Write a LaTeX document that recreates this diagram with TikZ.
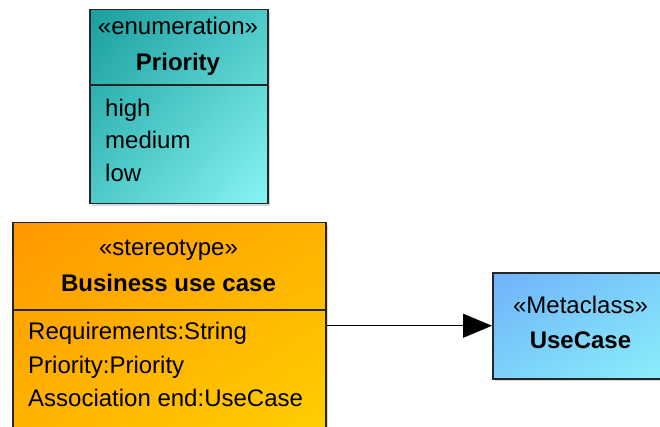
\documentclass[tikz,border=0pt]{standalone}
\usepackage{fontspec}
\setmainfont{Liberation Sans}
\usetikzlibrary{shadows,shadings,arrows.meta}
\definecolor{tealdark}{HTML}{1A9E9E}
\definecolor{teallight}{HTML}{88F4F4}
\definecolor{tealmid}{HTML}{4FC9C9}
\definecolor{orgdark}{HTML}{FF9800}
\definecolor{orglight}{HTML}{FFCE00}
\definecolor{orgmid}{HTML}{FFB300}
\definecolor{bluedark}{HTML}{6FB2FA}
\definecolor{bluelight}{HTML}{8CF0FA}
\definecolor{bluemid}{HTML}{7DD1FA}
\begin{document}
\begin{tikzpicture}[x=1pt,y=-1pt,
  box/.style={draw=black!85, line width=1.5pt, rectangle, inner sep=0pt, anchor=north west,
    drop shadow={shadow xshift=2.5pt,shadow yshift=-2.5pt,opacity=0.3,fill=gray}},
  txt/.style={inner sep=0pt, font=\fontsize{24}{28}\selectfont},
  hdr/.style={inner sep=0pt, font=\fontsize{24}{28}\selectfont\bfseries},
  divider/.style={draw=black!85, line width=1.5pt}]
\useasboundingbox (0,0) rectangle (660,427);
\clip (0,0) rectangle (660,427);
% Priority enumeration
\node[box, minimum width=178pt, minimum height=194pt,
  upper left=tealdark, lower right=teallight, upper right=tealmid, lower left=tealmid] (prio) at (89,9) {};
\coordinate (pdl) at (89,85);
\coordinate (pdr) at (267,85);
\draw[divider] (pdl) -- (pdr);
\node[txt, anchor=base] (penum) at (178,35) {«enumeration»};
\node[hdr, anchor=base] (pname) at (178,71) {Priority};
\node[txt, anchor=base west] (phigh) at (105,117) {high};
\node[txt, anchor=base west] (pmed) at (105,149) {medium};
\node[txt, anchor=base west] (plow) at (105,182) {low};
% Business use case stereotype
\node[box, minimum width=313pt, minimum height=206pt,
  upper left=orgdark, lower right=orglight, upper right=orgmid, lower left=orgmid] (biz) at (12,222) {};
\coordinate (bdl) at (12,310);
\coordinate (bdr) at (325,310);
\draw[divider] (bdl) -- (bdr);
\node[txt, anchor=base] (bster) at (168.5,255) {«stereotype»};
\node[hdr, anchor=base] (bname) at (168.5,291) {Business use case};
\node[txt, anchor=base west] (breq) at (28,339) {Requirements:String};
\node[txt, anchor=base west] (bprio) at (28,373) {Priority:Priority};
\node[txt, anchor=base west] (bassoc) at (28,406) {Association end:UseCase};
% UseCase metaclass
\node[box, minimum width=177pt, minimum height=106pt,
  upper left=bluedark, lower right=bluelight, upper right=bluemid, lower left=bluemid] (uc) at (492,272) {};
\node[txt, anchor=base] (umeta) at (580.5,313) {«Metaclass»};
\node[hdr, anchor=base] (uname) at (580.5,348) {UseCase};
% extension arrow
\draw[line width=1.2pt, -{Triangle[length=29pt,width=24pt]}] (biz.east) -- (uc.west);
\end{tikzpicture}
\end{document}
